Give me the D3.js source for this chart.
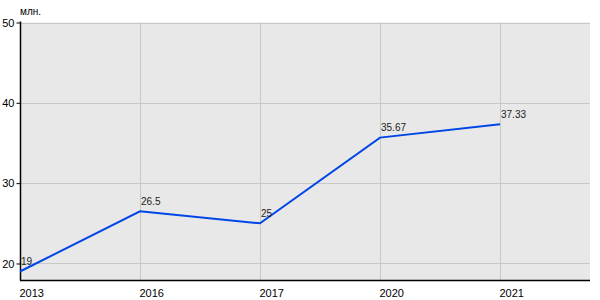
<!DOCTYPE html>
<html><head><meta charset="utf-8">
<script src="https://cdn.jsdelivr.net/npm/d3@7"></script>
<style>body{margin:0;background:#fff;} text{font-family:"Liberation Sans",Arial,sans-serif;}</style>
</head><body>
<svg id="c" width="600" height="300"></svg>
<script>
const categories = ["2013","2016","2017","2020","2021"];
const values = [19, 26.5, 25, 35.67, 37.33];
const valueLabels = ["19","26.5","25","35.67","37.33"];
const yTicks = [20,30,40,50];
const unitLabel = "млн.";

const svg = d3.select("#c");
const L=20, R=590, T=22.5, B=280.5;
const x = d3.scaleLinear().domain([0,4.75]).range([L,R]);
const y = d3.scaleLinear().domain([17.88,50]).range([B,T]);

svg.append("rect").attr("x",L).attr("y",T).attr("width",R-L).attr("height",B-T).attr("fill","#e8e8e8");

// grid
svg.append("g").selectAll("line").data(yTicks).join("line")
  .attr("x1",L).attr("x2",R).attr("y1",d=>Math.round(y(d))+0.5).attr("y2",d=>Math.round(y(d))+0.5)
  .attr("stroke","#c8c8c8").attr("stroke-width",1);
svg.append("g").selectAll("line").data(categories.slice(1)).join("line")
  .attr("x1",(d,i)=>Math.round(x(i+1))+0.5).attr("x2",(d,i)=>Math.round(x(i+1))+0.5)
  .attr("y1",T).attr("y2",B).attr("stroke","#c8c8c8").attr("stroke-width",1);

// y axis
const ya = d3.axisLeft(y).tickValues(yTicks).tickSize(4).tickPadding(2);
const gy = svg.append("g").attr("transform",`translate(${L+0.5},0)`).call(ya);
gy.select(".domain").remove();
gy.selectAll("text").style("font-size","11px").attr("fill","#000").attr("font-family","Liberation Sans, Arial, sans-serif");
svg.append("line").attr("x1",L+0.5).attr("x2",L+0.5).attr("y1",T-1).attr("y2",B).attr("stroke","#000").attr("stroke-width",1.5);

// x axis
const xa = d3.axisBottom(x).tickValues(d3.range(categories.length)).tickFormat(i=>categories[i]).tickSize(0).tickPadding(9);
const gx = svg.append("g").attr("transform",`translate(0,${B})`).call(xa);
gx.select(".domain").remove();
gx.selectAll("text").style("font-size","11px").attr("fill","#000").attr("text-anchor","start").attr("dx",-1).attr("font-family","Liberation Sans, Arial, sans-serif");
svg.append("line").attr("x1",L).attr("x2",R).attr("y1",B).attr("y2",B).attr("stroke","#000").attr("stroke-width",1.5);

// line
const line = d3.line().x((d,i)=>x(i)).y(d=>y(d));
svg.append("path").datum(values).attr("d",line).attr("fill","none").attr("stroke","#0046e6").attr("stroke-width",2);

// labels
svg.append("g").selectAll("text").data(values).join("text")
  .attr("x",(d,i)=>x(i)+1).attr("y",d=>y(d)-6.5)
  .style("font-size","10px").attr("fill","#222").text((d,i)=>valueLabels[i]);

svg.append("text").attr("x",L).attr("y",15).style("font-size","10px").attr("fill","#000").text(unitLabel);
</script>
</body></html>
